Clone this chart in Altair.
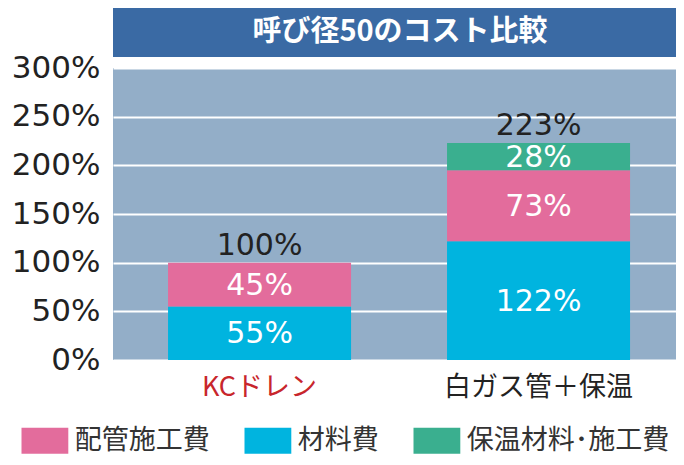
import altair as alt
import pandas as pd

title_text = "呼び径50のコスト比較"
categories = ["KCドレン", "白ガス管＋保温"]
components = ["材料費", "配管施工費", "保温材料･施工費"]
kc_values = [55, 45, 0]
sgp_values = [122, 73, 28]
totals = [100, 223]
legend_order = ["配管施工費", "材料費", "保温材料･施工費"]
legend_colors = ["#E36C9C", "#00B4DF", "#3AAF8F"]
y_ticks = [0, 50, 100, 150, 200, 250, 300]

rows = []
for cat, vals in zip(categories, [kc_values, sgp_values]):
    for i, (comp, v) in enumerate(zip(components, vals)):
        if v > 0:
            rows.append({"category": cat, "component": comp, "value": v, "stack_order": i})
df = pd.DataFrame(rows)
tot_df = pd.DataFrame({"category": categories, "total": totals})

W, H = 563, 292
CJK = "Noto Sans CJK JP"
NUM = "DejaVu Sans"

x_enc = alt.X(
    "category:N",
    sort=categories,
    scale=alt.Scale(paddingInner=0.344, paddingOuter=0.181, align=0.545),
    axis=alt.Axis(
        title=None, labelAngle=0, domain=False, ticks=False,
        labelFont=CJK, labelFontSize=27, labelPadding=14, labelLimit=400,
        labelColor={"condition": {"test": "datum.value == 'KCドレン'", "value": "#C8262C"}, "value": "#222222"},
    ),
)

bars = alt.Chart(df).mark_bar().encode(
    x=x_enc,
    y=alt.Y(
        "value:Q", stack="zero",
        scale=alt.Scale(domain=[0, 300], nice=False),
        axis=alt.Axis(
            title=None, values=y_ticks, labelExpr="datum.value + '%'",
            domain=False, ticks=False, grid=True, gridColor="#FFFFFF", gridWidth=2, gridOpacity=1,
            labelFont=NUM, labelFontSize=31, labelColor="#222222", labelPadding=13,
        ),
    ),
    color=alt.Color(
        "component:N",
        scale=alt.Scale(domain=legend_order, range=legend_colors),
        legend=alt.Legend(
            title=None, orient="none", legendX=-81.6, legendY=359, direction="horizontal", columns=3,
            symbolType="M-1.8,-1H1.8V1H-1.8Z", symbolSize=676, symbolStrokeWidth=0, symbolOpacity=1,
            labelFont=CJK, labelFontSize=27, labelColor="#333333", labelOffset=16.4, labelLimit=400,
            columnPadding=34, padding=0,
        ),
    ),
    order=alt.Order("stack_order:Q"),
)

seg_text = alt.Chart(df).transform_stack(
    stack="value", groupby=["category"], as_=["y0", "y1"],
    sort=[alt.SortField("stack_order", order="ascending")],
).transform_calculate(
    mid="(datum.y0 + datum.y1) / 2", lbl="datum.value + '%'"
).mark_text(color="white", font=NUM, fontSize=30, baseline="middle", dy=1).encode(
    x=alt.X("category:N", sort=categories),
    y=alt.Y("mid:Q"),
    text="lbl:N",
)

tot_text = alt.Chart(tot_df).transform_calculate(
    lbl="datum.total + '%'"
).mark_text(color="#222222", font=NUM, fontSize=30, baseline="alphabetic", dy=-8).encode(
    x=alt.X("category:N", sort=categories),
    y=alt.Y("total:Q"),
    text="lbl:N",
)

tdf = pd.DataFrame({"title": [title_text]})
title_bar = alt.Chart(tdf).mark_rect(color="#3A6AA4").encode(
    x=alt.value(0), x2=alt.value(W), y=alt.value(-60), y2=alt.value(-11)
)
title_txt = alt.Chart(tdf).mark_text(
    color="white", font=CJK, fontSize=29, fontWeight="bold", baseline="middle", align="center"
).encode(x=alt.value(287), y=alt.value(-36), text="title:N")

chart = alt.layer(bars, seg_text, tot_text, title_bar, title_txt).properties(
    width=W, height=H,
    autosize=alt.AutoSizeParams(type="none"),
    padding={"left": 105, "top": 60, "right": 0, "bottom": 97},
).configure_view(fill="#93AEC8", stroke=None)

chart.save("out.html", embed_options={"renderer": "svg", "actions": False})
